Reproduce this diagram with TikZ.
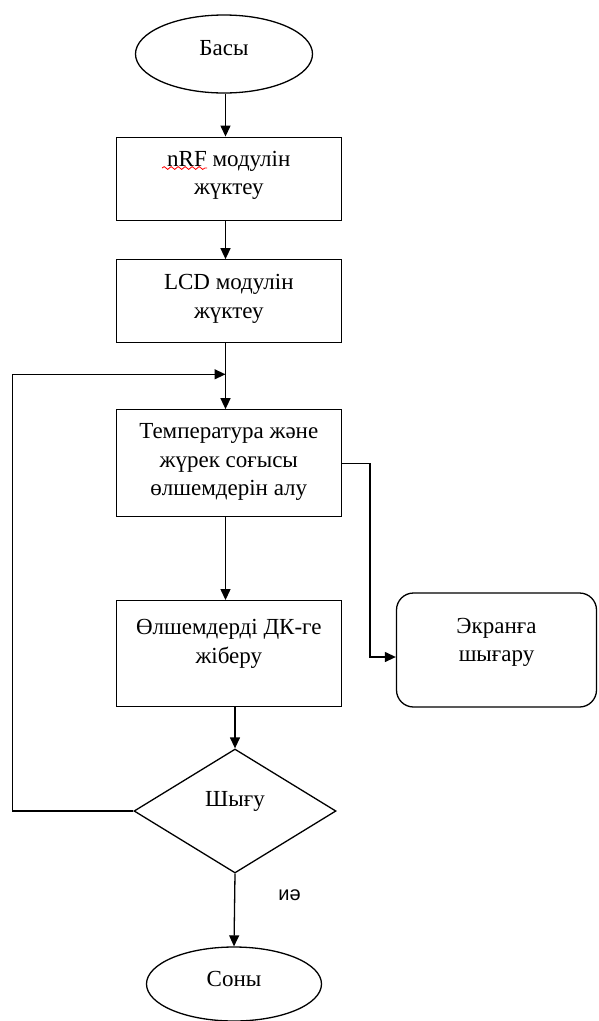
\documentclass[tikz,border=0pt]{standalone}
\usepackage{fontspec}
\setmainfont{Liberation Serif}
\newfontfamily\labelfont{Liberation Sans}
\usetikzlibrary{shapes.geometric,arrows.meta,decorations.pathmorphing}

% centred multi-line text, moved up by #1 without changing the node size
\newcommand{\boxtext}[2]{\raisebox{#1}[0pt][0pt]{\begin{tabular}{@{}c@{}}#2\end{tabular}}}

\begin{document}
\begin{tikzpicture}[x=1pt,y=-1pt,
  every node/.style={font=\fontsize{23}{28.5}\selectfont},
  flow/.style={line width=1.3pt, draw=black},
  arr/.style={flow, -{Triangle[length=11pt,width=10pt]}},
  term/.style={ellipse, draw, line width=1.3pt, inner sep=0pt,
    minimum width=177pt, minimum height=78pt},
  proc/.style={rectangle, draw, line width=1.3pt, inner sep=0pt,
    minimum width=225pt},
  display/.style={rectangle, rounded corners=17pt, draw, line width=1.3pt,
    inner sep=0pt, minimum width=200pt, minimum height=114pt},
  decision/.style={diamond, draw, line width=1.3pt, inner sep=0pt,
    minimum width=202pt, minimum height=124pt},
  yeslbl/.style={font=\labelfont\fontsize{20}{24}\selectfont, inner sep=0pt},
  spell/.style={draw=red, line width=0.8pt, decorate,
    decoration={snake, amplitude=1.4pt, segment length=7pt}}
]
\useasboundingbox (0,0) rectangle (598,1021);

% main vertical axis of the flow
\coordinate (axis) at (225.5,0);

% nodes
\node[term] (start) at (224,54) {\boxtext{-2pt}{Басы}};
\node[proc, minimum height=83pt] (nrf) at (228.8,178.7)
  {\boxtext{-2.5pt}{nRF модулін\\жүктеу}};
\node[proc, minimum height=83pt] (lcd) at (228.8,301.3)
  {\boxtext{-3pt}{LCD модулін\\жүктеу}};
\node[proc, minimum height=107pt] (meas) at (228.8,463.3)
  {\boxtext{-4.5pt}{Температура және\\жүрек соғысы\\өлшемдерін алу}};
\node[proc, minimum height=106pt] (send) at (228.8,653.7)
  {\boxtext{4pt}{Өлшемдерді ДК-ге\\жіберу}};
\node[display] (screen) at (496.5,650)
  {\boxtext{2pt}{Экранға\\шығару}};
\node[decision] (quit) at (235,811) {\boxtext{4pt}{Шығу}};
\node[term, minimum width=175pt, minimum height=74pt] (stop) at (234,984)
  {\boxtext{-3pt}{Соны}};

% spell-check underline below "nRF"
\draw[spell] (162,168) -- (207,168);

% loop return points
\coordinate (join) at (axis |- 0,374.3);
\coordinate (loopc) at (12.2,374.3);

% connectors
\draw[arr] (start.south -| axis) -- (nrf.north -| axis);
\draw[arr] (nrf.south -| axis) -- (lcd.north -| axis);
\draw[arr] (lcd.south -| axis) -- (meas.north -| axis);
\draw[arr] (meas.south -| axis) -- (send.north -| axis);
\draw[arr] (meas.east) -- ++(28,0) |- ([yshift=-7pt]screen.west);
\draw[arr] (send.south -| quit.north) -- (quit.north);
\draw[arr] (quit.west) -| (loopc) -- (join);
\draw[arr] (quit.south) -- node[yeslbl, pos=0.3, anchor=west, xshift=43pt] {иә} (stop.north);
\end{tikzpicture}
\end{document}
